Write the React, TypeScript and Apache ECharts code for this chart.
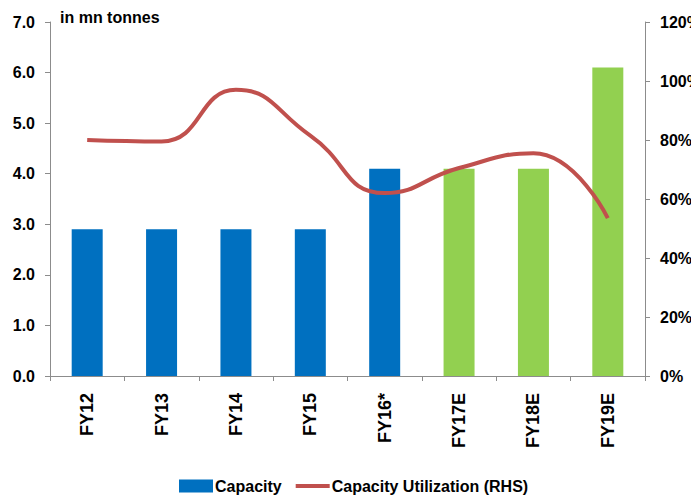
import React, { useEffect, useRef } from "react";
import * as echarts from "echarts";

const categories = ["FY12", "FY13", "FY14", "FY15", "FY16*", "FY17E", "FY18E", "FY19E"];
const capacity = [2.9, 2.9, 2.9, 2.9, 4.1, 4.1, 4.1, 6.1];
const isEstimate = [false, false, false, false, false, true, true, true];
const utilization = [80, 79.5, 97, 81.5, 62, 70.5, 75.5, 53.5];

const BLUE = "#0070C0";
const GREEN = "#92D050";
const RED = "#C0504D";
const FONT = "'Liberation Sans', Arial, sans-serif";

export default function App() {
  const ref = useRef<HTMLDivElement>(null);
  useEffect(() => {
    document.body.style.margin = "0";
    document.body.style.overflow = "hidden";
    if (!ref.current) return;
    const chart = echarts.init(ref.current, undefined, { renderer: "svg" });
    const axisLine = { show: true, lineStyle: { color: "#8c8c8c", width: 1 } };
    const axisTick = { show: true, inside: false, length: 5, lineStyle: { color: "#8c8c8c" } };
    chart.setOption({
      animation: false,
      textStyle: { fontFamily: FONT, color: "#000" },
      title: {
        text: "in mn tonnes",
        left: 60,
        top: 9,
        padding: 0,
        textStyle: { fontFamily: FONT, fontSize: 16, fontWeight: "bold", color: "#000" },
      },
      grid: { left: 50, right: 46, top: 22, bottom: 124, containLabel: false, outerBoundsMode: "none" },
      legend: {
        left: 179,
        top: 478,
        padding: 0,
        itemWidth: 34,
        itemHeight: 13,
        itemGap: 14,
        textStyle: { fontFamily: FONT, fontSize: 16, fontWeight: "bold", color: "#000", padding: [0, 0, 0, -3] },
        data: [
          { name: "Capacity", icon: "rect" },
          { name: "Capacity Utilization (RHS)", icon: "path://M0,0 H34 V4 H0 Z" },
        ],
      },
      xAxis: {
        type: "category",
        data: categories,
        boundaryGap: true,
        axisLine,
        axisTick: { ...axisTick, alignWithLabel: false },
        axisLabel: {
          rotate: 90,
          margin: 17,
          fontFamily: FONT,
          fontSize: 18,
          fontWeight: "bold",
          color: "#000",
        },
      },
      yAxis: [
        {
          type: "value",
          min: 0,
          max: 7,
          interval: 1,
          splitLine: { show: false },
          axisLine,
          axisTick,
          axisLabel: {
            margin: 15,
            fontFamily: FONT,
            fontSize: 16,
            fontWeight: "bold",
            color: "#000",
            formatter: (v: number) => v.toFixed(1),
          },
        },
        {
          type: "value",
          min: 0,
          max: 120,
          interval: 20,
          position: "right",
          splitLine: { show: false },
          axisLine,
          axisTick,
          axisLabel: {
            margin: 15,
            fontFamily: FONT,
            fontSize: 16,
            fontWeight: "bold",
            color: "#000",
            formatter: "{value}%",
          },
        },
      ],
      series: [
        {
          name: "Capacity",
          type: "bar",
          barWidth: 31,
          itemStyle: { color: BLUE },
          data: capacity.map((v, i) => ({
            value: v,
            itemStyle: { color: isEstimate[i] ? GREEN : BLUE },
          })),
        },
        {
          name: "Capacity Utilization (RHS)",
          type: "line",
          yAxisIndex: 1,
          smooth: 0.5,
          symbol: "none",
          showSymbol: false,
          lineStyle: { color: RED, width: 4 },
          itemStyle: { color: RED },
          data: utilization,
          z: 3,
        },
      ],
    });
    return () => chart.dispose();
  }, []);
  return <div ref={ref} style={{ width: 691, height: 500 }} />;
}
